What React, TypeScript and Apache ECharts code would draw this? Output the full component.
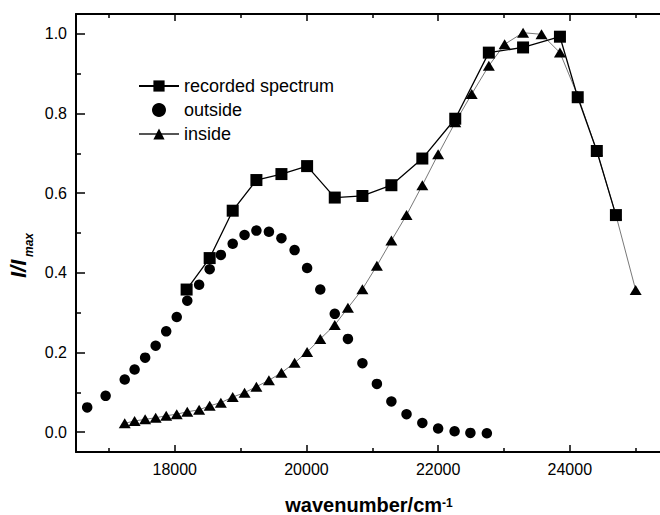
import React, { useEffect, useRef } from "react";
import * as echarts from "echarts";

// Emission spectrum: recorded curve and its two decomposed components
const recordedX = [18180, 18530, 18880, 19240, 19620, 20010, 20430, 20850, 21290, 21760, 22260, 22770, 23290, 23850, 24120, 24410, 24700];
const recordedY = [0.358, 0.437, 0.556, 0.633, 0.648, 0.668, 0.589, 0.593, 0.62, 0.687, 0.787, 0.953, 0.966, 0.993, 0.841, 0.706, 0.545];

const outsideX = [16670, 16950, 17240, 17390, 17550, 17710, 17870, 18030, 18190, 18370, 18530, 18700, 18880, 19060, 19240, 19430, 19620, 19820, 20010, 20210, 20430, 20630, 20850, 21070, 21290, 21520, 21760, 22000, 22250, 22490, 22740];
const outsideY = [0.062, 0.091, 0.132, 0.157, 0.187, 0.217, 0.253, 0.289, 0.33, 0.37, 0.409, 0.445, 0.473, 0.495, 0.506, 0.503, 0.487, 0.457, 0.412, 0.358, 0.297, 0.234, 0.173, 0.121, 0.077, 0.045, 0.023, 0.009, 0.002, -0.002, -0.003];

const insideX = [17240, 17390, 17550, 17710, 17870, 18030, 18190, 18370, 18530, 18700, 18880, 19060, 19240, 19430, 19620, 19820, 20010, 20210, 20430, 20630, 20850, 21070, 21290, 21520, 21760, 22000, 22260, 22510, 22770, 23010, 23290, 23570, 23850, 24120, 24410, 24700, 25000];
const insideY = [0.022, 0.028, 0.032, 0.036, 0.041, 0.045, 0.051, 0.056, 0.066, 0.074, 0.088, 0.099, 0.114, 0.13, 0.149, 0.174, 0.201, 0.234, 0.269, 0.312, 0.359, 0.418, 0.481, 0.545, 0.62, 0.6975, 0.778, 0.849, 0.92, 0.974, 1.003, 0.999, 0.953, 0.845, 0.706, 0.545, 0.357];

const xMajorTicks = [18000, 20000, 22000, 24000];
const xMinorTicks = [17000, 19000, 21000, 23000, 25000];
const yMajorTicks = [0, 0.2, 0.4, 0.6, 0.8, 1.0];
const yMinorTicks = [0.1, 0.3, 0.5, 0.7, 0.9];

const X_MIN = 16500;
const X_MAX = 25400;
const Y_MIN = -0.05;
const Y_MAX = 1.05;

const FONT = '"Liberation Sans", Arial, sans-serif';

const zip = (xs: number[], ys: number[]) => xs.map((x, i) => [x, ys[i]]);

function xAxis(position: "top" | "bottom", ticks: number[], len: number, labels: boolean, line: boolean) {
  return {
    type: "value",
    min: X_MIN,
    max: X_MAX,
    position,
    axisLine: { show: line, onZero: false, lineStyle: { color: "#000", width: 2 } },
    axisTick: { show: true, inside: true, length: len, customValues: ticks, lineStyle: { color: "#000", width: 1.5 } },
    axisLabel: {
      show: labels,
      customValues: ticks,
      margin: 9,
      color: "#000",
      fontSize: 16,
      fontFamily: FONT,
      formatter: (v: number) => String(v),
    },
    splitLine: { show: false },
  };
}

function yAxis(position: "left" | "right", ticks: number[], len: number, labels: boolean, line: boolean) {
  return {
    type: "value",
    min: Y_MIN,
    max: Y_MAX,
    position,
    axisLine: { show: line, onZero: false, lineStyle: { color: "#000", width: 2 } },
    axisTick: { show: true, inside: true, length: len, customValues: ticks, lineStyle: { color: "#000", width: 1.5 } },
    axisLabel: {
      show: labels,
      customValues: ticks,
      margin: 9,
      color: "#000",
      fontSize: 16,
      fontFamily: FONT,
      formatter: (v: number) => v.toFixed(1),
    },
    splitLine: { show: false },
  };
}

export default function App() {
  const ref = useRef<HTMLDivElement>(null);

  useEffect(() => {
    if (!ref.current) return;
    const chart = echarts.init(ref.current, undefined, { renderer: "svg" });
    const bottomMain: any = xAxis("bottom", xMajorTicks, 7, true, true);
    bottomMain.name = "{t|wavenumber/cm}{s|-1}";
    bottomMain.nameLocation = "middle";
    bottomMain.nameGap = 45;
    bottomMain.nameTextStyle = {
      rich: {
        t: { fontSize: 20, fontWeight: "bold", fontFamily: FONT, color: "#000", lineHeight: 16 },
        s: { fontSize: 12, fontWeight: "bold", fontFamily: FONT, color: "#000", verticalAlign: "top", lineHeight: 12 },
      },
    };

    chart.setOption({
      animation: false,
      grid: { left: 76, top: 14, right: 2, bottom: 63, containLabel: false, outerBoundsMode: "none" },
      xAxis: [
        bottomMain,
        xAxis("bottom", xMinorTicks, 4, false, false),
        xAxis("top", xMajorTicks, 7, false, true),
        xAxis("top", xMinorTicks, 4, false, false),
      ],
      yAxis: [
        yAxis("left", yMajorTicks, 9, true, true),
        yAxis("left", yMinorTicks, 5, false, false),
      ],
      legend: {
        orient: "vertical",
        left: 133,
        top: 72,
        itemWidth: 40,
        itemHeight: 14,
        itemGap: 6,
        data: ["recorded spectrum", "outside", "inside"],
        textStyle: { fontSize: 18, color: "#000", fontFamily: FONT },
      },
      graphic: [
        {
          type: "group",
          x: 18,
          y: 278,
          rotation: Math.PI / 2,
          children: [
            {
              type: "text",
              x: 0,
              y: 0,
              style: { text: "I/I", fontSize: 22, fontWeight: "bold", fontStyle: "italic", fontFamily: FONT, fill: "#000", align: "left", verticalAlign: "middle" },
            },
            {
              type: "text",
              x: 21,
              y: 11,
              style: { text: "max", fontSize: 12, fontWeight: "bold", fontStyle: "italic", fontFamily: FONT, fill: "#000", align: "left", verticalAlign: "middle" },
            },
          ],
        },
      ],
      series: [
        {
          name: "outside",
          type: "scatter",
          symbol: "circle",
          symbolSize: 10.5,
          itemStyle: { color: "#000", opacity: 1 },
          data: zip(outsideX, outsideY),
          z: 2,
        },
        {
          name: "inside",
          type: "line",
          symbol: "triangle",
          symbolSize: [12, 10],
          showSymbol: true,
          itemStyle: { color: "#000" },
          lineStyle: { color: "#555", width: 0.8 },
          data: zip(insideX, insideY),
          z: 3,
        },
        {
          name: "recorded spectrum",
          type: "line",
          symbol: "rect",
          symbolSize: 12,
          showSymbol: true,
          itemStyle: { color: "#000" },
          lineStyle: { color: "#000", width: 1.3 },
          data: zip(recordedX, recordedY),
          z: 4,
        },
      ],
    });
    return () => chart.dispose();
  }, []);

  // The plot frame runs a little past the right edge of the visible area
  return (
    <div style={{ position: "fixed", left: 0, top: 0, width: 660, height: 515, overflow: "hidden", background: "#fff" }}>
      <div ref={ref} style={{ width: 664, height: 515 }} />
    </div>
  );
}
